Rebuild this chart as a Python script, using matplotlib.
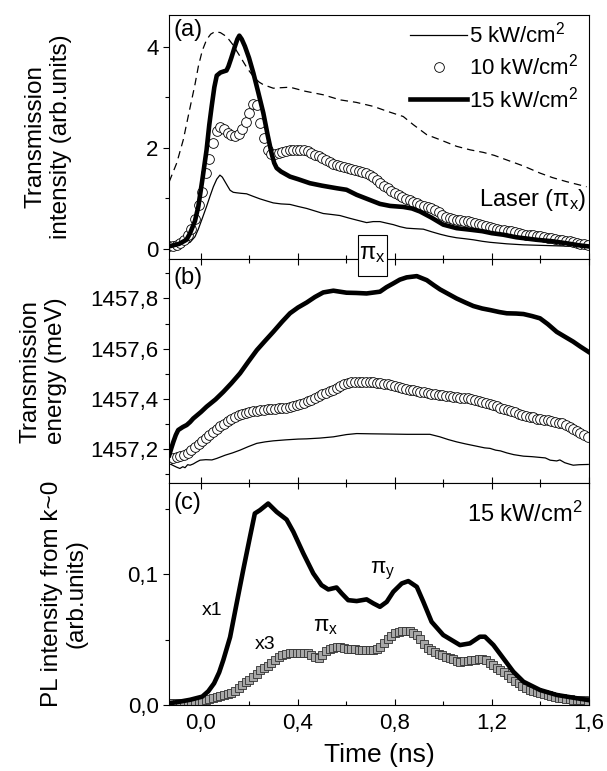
import matplotlib
matplotlib.use("Agg")
import matplotlib.pyplot as plt
from matplotlib.patches import Rectangle
from matplotlib.ticker import MultipleLocator, FuncFormatter

plt.rcParams['font.family'] = ['Liberation Sans', 'DejaVu Sans']
plt.rcParams['mathtext.fontset'] = 'custom'
plt.rcParams['mathtext.rm'] = 'Liberation Sans'
plt.rcParams['mathtext.it'] = 'Liberation Sans:italic'
plt.rcParams['axes.linewidth'] = 0.8

# time grid of the densely sampled marker curves (ns)
t_dense = [-0.130, -0.115, -0.100, -0.085, -0.070, -0.055, -0.040, -0.025, -0.010, 0.005, 0.020, 0.035,
           0.050, 0.065, 0.080, 0.095, 0.110, 0.125, 0.140, 0.155, 0.170, 0.185, 0.200, 0.215,
           0.230, 0.245, 0.260, 0.275, 0.290, 0.305, 0.320, 0.335, 0.350, 0.365, 0.380, 0.395,
           0.410, 0.425, 0.440, 0.455, 0.470, 0.485, 0.500, 0.515, 0.530, 0.545, 0.560, 0.575,
           0.590, 0.605, 0.620, 0.635, 0.650, 0.665, 0.680, 0.695, 0.710, 0.725, 0.740, 0.755,
           0.770, 0.785, 0.800, 0.815, 0.830, 0.845, 0.860, 0.875, 0.890, 0.905, 0.920, 0.935,
           0.950, 0.965, 0.980, 0.995, 1.010, 1.025, 1.040, 1.055, 1.070, 1.085, 1.100, 1.115,
           1.130, 1.145, 1.160, 1.175, 1.190, 1.205, 1.220, 1.235, 1.250, 1.265, 1.280, 1.295,
           1.310, 1.325, 1.340, 1.355, 1.370, 1.385, 1.400, 1.415, 1.430, 1.445, 1.460, 1.475,
           1.490, 1.505, 1.520, 1.535, 1.550, 1.565, 1.580, 1.595]

# ---- panel (a): transmission intensity ----
t_laser = [-0.131, -0.10, -0.073, -0.045, -0.025, -0.011, 0.005, 0.023, 0.040, 0.058, 0.080, 0.106,
           0.130, 0.161, 0.190, 0.216, 0.240, 0.257, 0.298, 0.330, 0.367, 0.430, 0.504, 0.573, 0.640,
           0.711, 0.770, 0.834, 0.875, 0.931, 0.986, 1.054, 1.110, 1.164, 1.210, 1.261, 1.330, 1.398,
           1.450, 1.508, 1.590]
laser = [1.33, 1.70, 2.16, 2.80, 3.25, 3.61, 3.92, 4.14, 4.25, 4.30, 4.28, 4.20,
         4.05, 3.81, 3.58, 3.41, 3.30, 3.25, 3.18, 3.19, 3.20, 3.12, 3.05, 2.95, 2.90,
         2.82, 2.72, 2.62, 2.46, 2.26, 2.16, 2.03, 1.96, 1.91, 1.85, 1.76, 1.64, 1.50,
         1.41, 1.33, 1.23]

t_a5 = [-0.131, -0.09, -0.045, -0.025, -0.011, 0.005, 0.023, 0.037, 0.051, 0.065, 0.078, 0.088,
        0.099, 0.110, 0.120, 0.133, 0.147, 0.165, 0.188, 0.215, 0.243, 0.270, 0.298, 0.330,
        0.367, 0.400, 0.436, 0.470, 0.504, 0.540, 0.573, 0.610, 0.642, 0.683, 0.710, 0.738,
        0.765, 0.793, 0.820, 0.848, 0.880, 0.917, 0.950, 0.986, 1.020, 1.054, 1.090, 1.123,
        1.160, 1.192, 1.261, 1.330, 1.398, 1.470, 1.535, 1.597]
a5 = [0.03, 0.06, 0.13, 0.24, 0.39, 0.60, 0.84, 1.04, 1.23, 1.38, 1.46, 1.42,
      1.33, 1.24, 1.16, 1.12, 1.11, 1.10, 1.09, 1.04, 0.99, 0.95, 0.91, 0.89,
      0.88, 0.84, 0.80, 0.75, 0.70, 0.68, 0.66, 0.61, 0.57, 0.52, 0.54, 0.54,
      0.51, 0.48, 0.44, 0.41, 0.40, 0.39, 0.34, 0.29, 0.25, 0.22, 0.20, 0.18,
      0.15, 0.13, 0.10, 0.08, 0.07, 0.06, 0.05, 0.04]

a10 = [0.05, 0.06, 0.08, 0.12, 0.17, 0.27, 0.40, 0.60, 0.86, 1.12, 1.50, 1.77,
       2.10, 2.33, 2.41, 2.37, 2.29, 2.25, 2.24, 2.28, 2.38, 2.51, 2.68, 2.86,
       2.85, 2.50, 2.20, 1.96, 1.87, 1.87, 1.89, 1.91, 1.93, 1.95, 1.96, 1.96,
       1.96, 1.95, 1.93, 1.90, 1.86, 1.83, 1.79, 1.75, 1.71, 1.68, 1.66, 1.64,
       1.63, 1.61, 1.59, 1.57, 1.55, 1.52, 1.50, 1.47, 1.43, 1.37, 1.31, 1.25,
       1.20, 1.15, 1.10, 1.06, 1.02, 0.99, 0.96, 0.93, 0.90, 0.87, 0.85, 0.83,
       0.80, 0.76, 0.72, 0.68, 0.64, 0.61, 0.59, 0.58, 0.57, 0.56, 0.55, 0.53,
       0.51, 0.49, 0.47, 0.45, 0.44, 0.42, 0.40, 0.38, 0.37, 0.36, 0.35, 0.33,
       0.31, 0.30, 0.28, 0.28, 0.27, 0.26, 0.25, 0.23, 0.22, 0.21, 0.19, 0.18,
       0.17, 0.16, 0.15, 0.14, 0.12, 0.10, 0.09, 0.07]

t_a15 = [-0.131, -0.09, -0.06, -0.045, -0.025, -0.011, 0.005, 0.023, 0.034, 0.044, 0.055, 0.065,
         0.080, 0.092, 0.105, 0.113, 0.125, 0.140, 0.150, 0.158, 0.168, 0.181, 0.198, 0.216,
         0.236, 0.257, 0.275, 0.291, 0.302, 0.312, 0.330, 0.367, 0.400, 0.449, 0.500, 0.560,
         0.600, 0.642, 0.690, 0.738, 0.780, 0.834, 0.870, 0.903, 0.950, 0.999, 1.054, 1.109,
         1.160, 1.200, 1.247, 1.300, 1.384, 1.450, 1.508, 1.560, 1.596]
a15 = [0.05, 0.10, 0.18, 0.31, 0.55, 0.84, 1.35, 1.96, 2.45, 2.82, 3.20, 3.43,
       3.49, 3.51, 3.53, 3.61, 3.78, 4.01, 4.15, 4.22, 4.15, 4.01, 3.78, 3.48,
       3.10, 2.69, 2.25, 1.89, 1.70, 1.60, 1.53, 1.43, 1.38, 1.30, 1.25, 1.20,
       1.17, 1.07, 0.98, 0.89, 0.85, 0.83, 0.80, 0.74, 0.62, 0.48, 0.41, 0.38,
       0.35, 0.31, 0.28, 0.23, 0.18, 0.15, 0.11, 0.07, 0.05]

# ---- panel (b): transmission energy ----
t_b5 = [-0.131, -0.115, -0.100, -0.087, -0.075, -0.066, -0.055, -0.045, -0.032, -0.018, -0.004, 0.020,
        0.045, 0.065, 0.100, 0.130, 0.161, 0.195, 0.230, 0.265, 0.298, 0.350, 0.400, 0.436,
        0.490, 0.546, 0.600, 0.642, 0.700, 0.779, 0.850, 0.944, 0.985, 1.020, 1.054, 1.090,
        1.120, 1.150, 1.170, 1.192, 1.215, 1.235, 1.261, 1.290, 1.310, 1.330, 1.365, 1.398,
        1.420, 1.440, 1.467, 1.480, 1.500, 1.520, 1.535, 1.560, 1.597]
b5 = [1457.143, 1457.135, 1457.128, 1457.123, 1457.130, 1457.126, 1457.138, 1457.136, 1457.141,
      1457.149, 1457.156, 1457.158, 1457.157, 1457.163, 1457.176, 1457.185, 1457.196, 1457.210,
      1457.223, 1457.229, 1457.233, 1457.237, 1457.240, 1457.241, 1457.244, 1457.249, 1457.258,
      1457.262, 1457.261, 1457.260, 1457.259, 1457.259, 1457.249, 1457.238, 1457.229, 1457.221,
      1457.215, 1457.209, 1457.205, 1457.203, 1457.196, 1457.193, 1457.185, 1457.178, 1457.175,
      1457.172, 1457.170, 1457.167, 1457.165, 1457.156, 1457.153, 1457.157, 1457.146, 1457.140,
      1457.136, 1457.138, 1457.139]

b10 = [1457.160, 1457.164, 1457.167, 1457.171, 1457.178, 1457.186, 1457.196, 1457.208, 1457.220,
       1457.232, 1457.245, 1457.258, 1457.270, 1457.282, 1457.292, 1457.302, 1457.311, 1457.320,
       1457.327, 1457.334, 1457.339, 1457.343, 1457.346, 1457.350, 1457.353, 1457.355, 1457.357,
       1457.358, 1457.359, 1457.361, 1457.362, 1457.363, 1457.365, 1457.367, 1457.370, 1457.375,
       1457.380, 1457.385, 1457.390, 1457.397, 1457.404, 1457.411, 1457.418, 1457.424, 1457.430,
       1457.437, 1457.444, 1457.451, 1457.458, 1457.463, 1457.466, 1457.468, 1457.469, 1457.469,
       1457.469, 1457.468, 1457.467, 1457.465, 1457.463, 1457.460, 1457.458, 1457.454, 1457.450,
       1457.446, 1457.442, 1457.439, 1457.437, 1457.434, 1457.431, 1457.428, 1457.426, 1457.424,
       1457.421, 1457.418, 1457.416, 1457.414, 1457.412, 1457.410, 1457.408, 1457.406, 1457.405,
       1457.404, 1457.402, 1457.399, 1457.395, 1457.391, 1457.387, 1457.384, 1457.381, 1457.376,
       1457.370, 1457.365, 1457.360, 1457.356, 1457.352, 1457.346, 1457.341, 1457.336, 1457.331,
       1457.329, 1457.326, 1457.322, 1457.320, 1457.318, 1457.316, 1457.313, 1457.310, 1457.306,
       1457.303, 1457.297, 1457.290, 1457.282, 1457.272, 1457.264, 1457.255, 1457.247]

t_b15 = [-0.131, -0.122, -0.114, -0.104, -0.094, -0.075, -0.059, -0.045, -0.032, 0.000, 0.023, 0.060,
         0.092, 0.125, 0.161, 0.195, 0.230, 0.265, 0.298, 0.335, 0.367, 0.400, 0.436, 0.470,
         0.504, 0.546, 0.600, 0.640, 0.683, 0.738, 0.765, 0.793, 0.820, 0.848, 0.890, 0.931,
         0.960, 0.986, 1.020, 1.054, 1.090, 1.123, 1.160, 1.192, 1.230, 1.261, 1.300, 1.330,
         1.365, 1.398, 1.430, 1.467, 1.500, 1.535, 1.565, 1.597]
b15 = [1457.176, 1457.205, 1457.229, 1457.256, 1457.276, 1457.288, 1457.296, 1457.308, 1457.322,
       1457.348, 1457.369, 1457.398, 1457.428, 1457.462, 1457.502, 1457.548, 1457.594, 1457.632,
       1457.667, 1457.708, 1457.741, 1457.764, 1457.784, 1457.806, 1457.824, 1457.831, 1457.823,
       1457.822, 1457.820, 1457.827, 1457.845, 1457.860, 1457.875, 1457.884, 1457.889, 1457.873,
       1457.853, 1457.836, 1457.818, 1457.800, 1457.784, 1457.770, 1457.760, 1457.754, 1457.746,
       1457.741, 1457.740, 1457.738, 1457.730, 1457.721, 1457.698, 1457.667, 1457.648, 1457.628,
       1457.608, 1457.588]

# ---- panel (c): PL intensity from k~0, 15 kW/cm2 ----
t_piy = [-0.131, -0.09, -0.045, 0.005, 0.030, 0.054, 0.075, 0.092, 0.120, 0.147, 0.174, 0.202,
         0.222, 0.243, 0.277, 0.312, 0.353, 0.381, 0.422, 0.463, 0.497, 0.525, 0.559, 0.580,
         0.607, 0.642, 0.683, 0.711, 0.738, 0.766, 0.793, 0.828, 0.855, 0.890, 0.917, 0.951,
         0.999, 1.068, 1.109, 1.150, 1.171, 1.206, 1.247, 1.288, 1.330, 1.398, 1.467, 1.535,
         1.597]
piy = [0.0013, 0.0025, 0.0040, 0.0064, 0.0105, 0.0166, 0.0250, 0.0344, 0.0520, 0.0778, 0.1033, 0.1288,
       0.1467, 0.1492, 0.1543, 0.1479, 0.1420, 0.1326, 0.1161, 0.1008, 0.0918, 0.0885, 0.0900, 0.0855,
       0.0803, 0.0796, 0.0809, 0.0778, 0.0752, 0.0790, 0.0867, 0.0931, 0.0949, 0.0905, 0.0790, 0.0637,
       0.0536, 0.0459, 0.0472, 0.0523, 0.0523, 0.0459, 0.0357, 0.0255, 0.0178, 0.0115, 0.0077, 0.0056,
       0.0038]

pix = [0.0017, 0.0017, 0.0017, 0.0017, 0.0017, 0.0018, 0.0019, 0.0021, 0.0025, 0.0030, 0.0037, 0.0045,
       0.0053, 0.0062, 0.0072, 0.0080, 0.0086, 0.0095, 0.0110, 0.0130, 0.0155, 0.0178, 0.0195, 0.0215,
       0.0240, 0.0265, 0.0285, 0.0302, 0.0320, 0.0345, 0.0365, 0.0380, 0.0388, 0.0395, 0.0399, 0.0400,
       0.0400, 0.0399, 0.0395, 0.0386, 0.0368, 0.0360, 0.0385, 0.0410, 0.0428, 0.0440, 0.0446, 0.0445,
       0.0438, 0.0430, 0.0427, 0.0426, 0.0425, 0.0423, 0.0421, 0.0421, 0.0425, 0.0432, 0.0445, 0.0478,
       0.0505, 0.0530, 0.0550, 0.0562, 0.0569, 0.0570, 0.0568, 0.0555, 0.0535, 0.0505, 0.0468, 0.0440,
       0.0420, 0.0405, 0.0392, 0.0380, 0.0370, 0.0362, 0.0352, 0.0338, 0.0330, 0.0334, 0.0340, 0.0344,
       0.0347, 0.0349, 0.0350, 0.0342, 0.0325, 0.0303, 0.0285, 0.0268, 0.0250, 0.0228, 0.0205, 0.0185,
       0.0166, 0.0148, 0.0130, 0.0117, 0.0107, 0.0098, 0.0090, 0.0081, 0.0073, 0.0066, 0.0060, 0.0055,
       0.0051, 0.0048, 0.0045, 0.0042, 0.0039, 0.0037, 0.0035, 0.0033]

x_ticks = [0.0, 0.4, 0.8, 1.2, 1.6]


def comma(v, pos):
    return f"{v:.1f}".replace('.', ',')


fig = plt.figure(figsize=(6.07, 7.71), dpi=100)
L, W = 0.2784, 0.6919
ax_a = fig.add_axes([L, 0.6641, W, 0.3165])
ax_b = fig.add_axes([L, 0.3735, W, 0.2905])
ax_c = fig.add_axes([L, 0.0856, W, 0.2879])

tick_fs = 16
lab_fs = 17.5

for ax in (ax_a, ax_b, ax_c):
    ax.set_xlim(-0.132, 1.6)
    ax.xaxis.set_major_locator(MultipleLocator(0.4))
    ax.xaxis.set_minor_locator(MultipleLocator(0.2))
    ax.tick_params(axis='x', which='both', direction='in', top=True, bottom=True,
                   labelbottom=False, width=0.8)
    ax.tick_params(axis='x', which='major', length=4)
    ax.tick_params(axis='x', which='minor', length=3)
    ax.tick_params(axis='y', which='both', direction='out', right=False, width=0.8,
                   labelsize=tick_fs)
    ax.tick_params(axis='y', which='major', length=4)
    ax.tick_params(axis='y', which='minor', length=3)
ax_a.tick_params(axis='x', which='both', top=False)

circ = dict(ls='none', marker='o', ms=7, mfc='white', mec='black', mew=0.6)

# panel a
ax_a.plot(t_laser, laser, color='black', lw=0.9, ls=(0, (6, 4)))
ax_a.plot(t_a5, a5, color='black', lw=0.9, label='5 kW/cm$^2$')
ax_a.plot(t_dense, a10, label='10 kW/cm$^2$', **circ)
ax_a.plot(t_a15, a15, color='black', lw=3.3, label='15 kW/cm$^2$')
ax_a.set_ylim(-0.2, 4.63)
ax_a.yaxis.set_major_locator(MultipleLocator(2))
ax_a.yaxis.set_minor_locator(MultipleLocator(1))
ax_a.yaxis.set_major_formatter(FuncFormatter(lambda v, p: f"{v:.0f}"))
ax_a.set_ylabel('Transmission\nintensity (arb.units)', fontsize=lab_fs)
ax_a.yaxis.set_label_coords(-0.231, 0.5)
ax_a.legend(loc='upper right', bbox_to_anchor=(0.99, 1.0), frameon=False, fontsize=16,
            handlelength=2.55, handletextpad=0.1, labelspacing=0.29, numpoints=1,
            borderaxespad=0.0, borderpad=0.3)
ax_a.text(0.01, 0.985, '(a)', transform=ax_a.transAxes, fontsize=17, va='top', ha='left')
ax_a.text(1.59, 0.97, 'Laser (π$_{\\rm x}$)', fontsize=17, ha='right', va='center')

# panel b
ax_b.plot(t_b5, b5, color='black', lw=0.9)
ax_b.plot(t_dense, b10, **circ)
ax_b.plot(t_b15, b15, color='black', lw=3.3)
ax_b.set_ylim(1457.065, 1457.957)
ax_b.yaxis.set_major_locator(MultipleLocator(0.2))
ax_b.yaxis.set_minor_locator(MultipleLocator(0.1))
ax_b.yaxis.set_major_formatter(FuncFormatter(comma))
ax_b.set_ylabel('Transmission\nenergy (meV)', fontsize=lab_fs)
ax_b.yaxis.set_label_coords(-0.243, 0.5)
ax_b.text(0.01, 0.965, '(b)', transform=ax_b.transAxes, fontsize=17, va='top', ha='left')

# panel c
ax_c.plot(t_dense, pix, ls='none', marker='s', ms=5.5, mfc='#a8a8a8', mec='#303030', mew=0.6)
ax_c.plot(t_piy, piy, color='black', lw=3.3)
ax_c.set_ylim(0.0, 0.170)
ax_c.yaxis.set_major_locator(MultipleLocator(0.1))
ax_c.yaxis.set_minor_locator(MultipleLocator(0.05))
ax_c.yaxis.set_major_formatter(FuncFormatter(comma))
ax_c.set_xticks(x_ticks)
ax_c.xaxis.set_major_formatter(FuncFormatter(comma))
ax_c.tick_params(axis='x', labelbottom=True, labelsize=tick_fs, pad=6)
ax_c.set_xlabel('Time (ns)', fontsize=19, labelpad=6)
ax_c.set_ylabel('PL intensity from k~0\n(arb.units)', fontsize=lab_fs)
ax_c.yaxis.set_label_coords(-0.193, 0.5)
ax_c.text(0.01, 0.96, '(c)', transform=ax_c.transAxes, fontsize=17, va='top', ha='left')
ax_c.text(0.985, 0.86, '15 kW/cm$^2$', transform=ax_c.transAxes, fontsize=17, va='center',
          ha='right')
ax_c.text(0.045, 0.0727, 'x1', fontsize=14, ha='center', va='center')
ax_c.text(0.264, 0.046, 'x3', fontsize=14, ha='center', va='center')
ax_c.text(0.697, 0.103, 'π$_{\\rm y}$', fontsize=16, ha='left', va='center')
ax_c.text(0.462, 0.060, 'π$_{\\rm x}$', fontsize=16, ha='left', va='center')

# polarisation box across panels a/b
fig.add_artist(Rectangle((358 / 607, 1 - 276 / 771), 29 / 607, 41 / 771, transform=fig.transFigure,
                         fc='white', ec='black', lw=0.8, zorder=9))
fig.text(372.5 / 607, 1 - 254 / 771, 'π$_{\\rm x}$', fontsize=17, ha='center', va='center',
         zorder=10)

fig.savefig('out.png', dpi=100)
